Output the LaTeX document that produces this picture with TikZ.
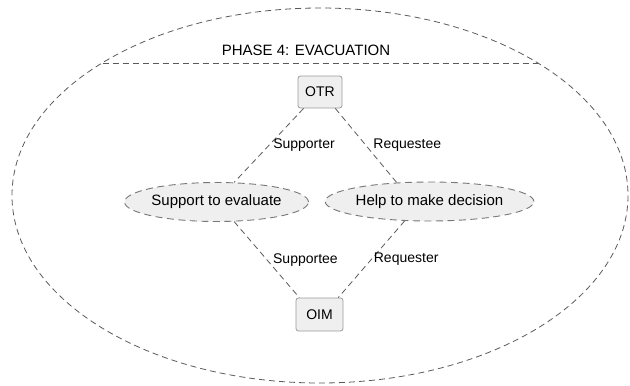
\documentclass[tikz,border=0pt]{standalone}
\usepackage{fontspec}
\setmainfont{Liberation Sans}
\usetikzlibrary{shapes.geometric}
\definecolor{linegray}{HTML}{5A5A5A}
\definecolor{boxfill}{HTML}{EFEFEF}
\definecolor{boxline}{HTML}{9A9A9A}
\definecolor{taskline}{HTML}{777777}
\begin{document}
\begin{tikzpicture}[x=1pt,y=-1pt,
  dashline/.style={draw=linegray, line width=0.8pt, dash pattern=on 6pt off 4pt},
  actor/.style={draw=boxline, fill=boxfill, rounded corners=2.5pt, line width=0.8pt,
    minimum width=44pt, minimum height=32pt, inner sep=0pt, font=\fontsize{14}{16}\selectfont},
  task/.style={ellipse, draw=taskline, fill=boxfill, line width=0.9pt,
    dash pattern=on 7pt off 4.5pt, minimum height=39pt, inner sep=0pt,
    font=\fontsize{15}{17}\selectfont},
  role/.style={font=\fontsize{14}{16}\selectfont, inner sep=0pt, anchor=west}]
\useasboundingbox (0,0) rectangle (630,386);
% phase boundary and its header line
\draw[dashline] (320,195.5) ellipse [x radius=308, y radius=187.5];
\coordinate (hl) at (102.5,63);
\coordinate (hr) at (537.5,63);
\draw[dashline] (hl) -- (hr);
\node[font=\fontsize{15}{17}\selectfont] (title) at (306,50) {PHASE 4: EVACUATION};
% participants and tasks
\node[actor] (otr) at (320,92) {OTR};
\node[actor, minimum width=47pt, minimum height=33pt] (oim) at (319.5,314.5) {OIM};
\node[task, minimum width=179pt] (sup) at (216.5,202) {Support to evaluate};
\node[task, minimum width=193pt] (help) at (429.5,201.5) {Help to make decision};
% role links
\draw[dashline] (otr.-135) -- node[role, pos=0.5, xshift=4pt] {Supporter} (sup.48);
\draw[dashline] (otr.-47) -- node[role, pos=0.5, xshift=7pt] {Requestee} (help.150);
\draw[dashline] (sup.-48) -- node[role, pos=0.5, xshift=6pt] {Supportee} (oim.140);
\draw[dashline] (help.-142) -- node[role, pos=0.5, xshift=2pt] {Requester} (oim.42);
\end{tikzpicture}
\end{document}
